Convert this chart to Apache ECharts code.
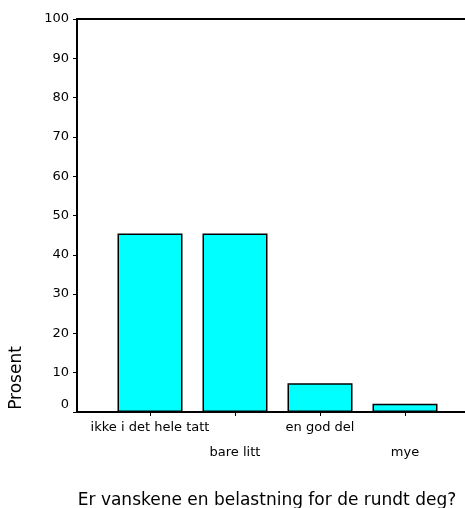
<!DOCTYPE html>
<html>
<head>
<meta charset="utf-8">
<script src="https://cdn.jsdelivr.net/npm/echarts@6/dist/echarts.min.js"></script>
<style>
html,body{margin:0;padding:0;background:#fff;}
#chart{width:465px;height:508px;}
</style>
</head>
<body>
<div id="chart"></div>
<script>
var categories = ['ikke i det hele tatt', 'bare litt', 'en god del', 'mye'];
var values = [45.4, 45.4, 7.3, 2.1];
var yTicks = [0, 10, 20, 30, 40, 50, 60, 70, 80, 90, 100];
var xTitle = 'Er vanskene en belastning for de rundt deg?';
var yTitle = 'Prosent';

var positions = categories.map(function (c, i) { return i + 1; });
var upperRow = positions.filter(function (p, i) { return i % 2 === 0; });
var lowerRow = positions.filter(function (p, i) { return i % 2 === 1; });
var FONT = 'DejaVu Sans';

function catLabel(v) { return categories[Math.round(v) - 1]; }

var chart = echarts.init(document.getElementById('chart'), null, {renderer: 'canvas'});
var xMin = 1 - 73 / 85, xMax = 4 + 60 / 85;
var labelStyle = {color: '#000', fontFamily: FONT, fontSize: 13, verticalAlign: 'top'};
chart.setOption({
  animation: false,
  backgroundColor: '#ffffff',
  grid: {left: 77, right: 0, top: 19, bottom: 96, outerBoundsMode: 'none', containLabel: false},
  xAxis: [{
    type: 'value',
    min: xMin, max: xMax,
    position: 'bottom',
    axisLine: {show: true, lineStyle: {color: '#000', width: 2}},
    axisTick: {show: true, length: 4, customValues: positions, lineStyle: {color: '#000', width: 1}},
    axisLabel: Object.assign({
      show: true, customValues: upperRow, margin: 9,
      showMinLabel: true, showMaxLabel: true, hideOverlap: false,
      formatter: catLabel
    }, labelStyle),
    splitLine: {show: false},
    name: xTitle, nameLocation: 'middle', nameGap: 80,
    nameTextStyle: {color: '#000', fontFamily: FONT, fontSize: 17, padding: [0, 8, 0, 0]}
  }, {
    type: 'value',
    min: xMin, max: xMax,
    position: 'top',
    axisLine: {show: true, lineStyle: {color: '#000', width: 2}},
    axisTick: {show: false}, axisLabel: {show: false}, splitLine: {show: false}
  }, {
    type: 'value',
    min: xMin, max: xMax,
    position: 'bottom',
    offset: 0,
    axisLine: {show: false},
    axisTick: {show: false},
    axisLabel: Object.assign({
      show: true, customValues: lowerRow, margin: 34,
      showMinLabel: true, showMaxLabel: true, hideOverlap: false,
      formatter: catLabel
    }, labelStyle),
    splitLine: {show: false}
  }],
  yAxis: {
    type: 'value', min: 0, max: 100, interval: 10,
    axisLine: {show: true, lineStyle: {color: '#000', width: 2}},
    axisTick: {show: true, length: 4, lineStyle: {color: '#000', width: 1}},
    axisLabel: {
      color: '#000', fontFamily: FONT, fontSize: 13, margin: 8,
      showMinLabel: true, showMaxLabel: true,
      formatter: function (v) { return v === 0 ? '{z|0}' : String(v); },
      rich: {z: {fontFamily: FONT, fontSize: 13, color: '#000', padding: [0, 0, 15, 0]}}
    },
    splitLine: {show: false}
  },
  graphic: [{
    type: 'text', x: 17, y: 378, rotation: Math.PI / 2,
    style: {text: yTitle, fill: '#000', font: '17px "DejaVu Sans"', align: 'center', verticalAlign: 'middle'}
  }],
  series: [{
    type: 'bar',
    xAxisIndex: 0,
    barWidth: 65,
    data: positions.map(function (p, i) { return [p, values[i]]; }),
    itemStyle: {color: '#00ffff', borderColor: '#000', borderWidth: 1.5}
  }]
});
</script>
</body>
</html>
